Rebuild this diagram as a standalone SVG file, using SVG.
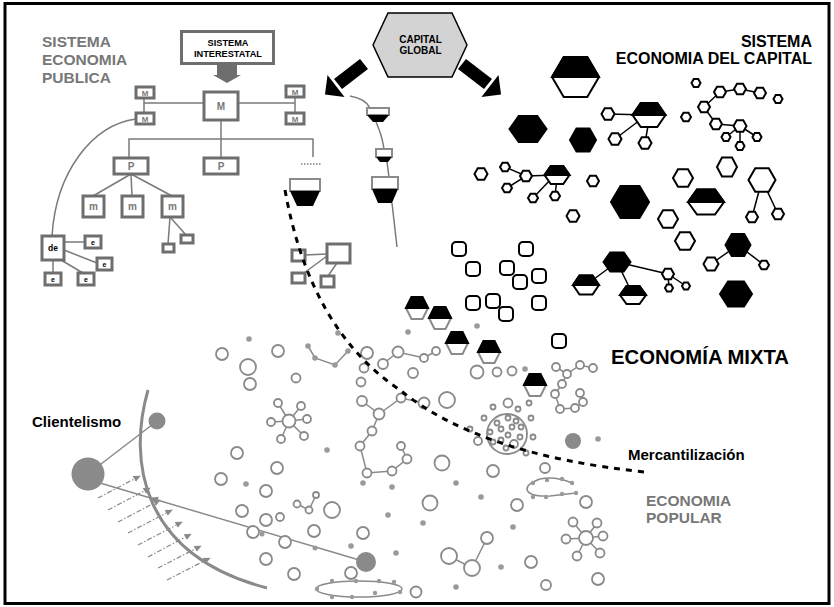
<svg xmlns="http://www.w3.org/2000/svg" width="834" height="607" viewBox="0 0 834 607">
<defs>
<style>
.t{font-family:"Liberation Sans",Arial,Helvetica,sans-serif;font-weight:bold}
.gt{fill:#777}
.gb{fill:#fff;stroke:#6e6e6e;stroke-width:3}
.gl{fill:none;stroke:#7a7a7a;stroke-width:1.5}
.ho{fill:#fff;stroke:#000;stroke-width:2}
.hb{fill:#000;stroke:#000;stroke-width:2}
.hg{fill:#fff;stroke:#8a8a8a;stroke-width:2}
.bl{fill:none;stroke:#000;stroke-width:1.5}
.rs{fill:#fff;stroke:#000;stroke-width:2}
.c{fill:#fff;stroke:#8a8a8a;stroke-width:1.8}
.d{fill:#9a9a9a}
.pl{fill:none;stroke:#8a8a8a;stroke-width:1.5}
.dd{fill:none;stroke:#8a8a8a;stroke-width:1.2;stroke-dasharray:5 2 1.5 2}
</style>
<polygon id="hx" points="-1,0 -0.5,-0.866 0.5,-0.866 1,0 0.5,0.866 -0.5,0.866" vector-effect="non-scaling-stroke"/>
<polygon id="hxt" points="-1,0 -0.5,-0.866 0.5,-0.866 1,0" vector-effect="non-scaling-stroke"/>
<marker id="ah" viewBox="0 0 10 10" refX="9" refY="5" markerWidth="6" markerHeight="6" orient="auto"><path d="M0,0.5 L10,5 L0,9.5 z" fill="#8a8a8a"/></marker>
</defs>
<rect x="5" y="3.5" width="824" height="600" fill="#fff" stroke="#000" stroke-width="3"/>

<g id="connectors">
  <g class="gl">
    <line x1="144" y1="98" x2="144" y2="113"/>
    <line x1="144" y1="103" x2="204" y2="103"/>
    <line x1="238" y1="103" x2="295" y2="103"/>
    <line x1="295" y1="97" x2="295" y2="113"/>
    <line x1="221" y1="120" x2="221" y2="158"/>
    <polyline points="129,158 129,139 313,139 313,157"/>
    <line x1="301" y1="164" x2="321" y2="164" stroke-dasharray="1.5 1.5"/>
    <line x1="131" y1="174" x2="93" y2="196"/>
    <line x1="131" y1="174" x2="132" y2="196"/>
    <line x1="131" y1="174" x2="172" y2="196"/>
    <line x1="170" y1="217" x2="168" y2="244"/>
    <line x1="170" y1="217" x2="186" y2="235"/>
    <path d="M136 119 C92 125 56 172 52 236"/>
    <line x1="64" y1="242" x2="85" y2="242"/>
    <line x1="64" y1="250" x2="97" y2="263"/>
    <line x1="53" y1="260" x2="53" y2="273"/>
    <line x1="61" y1="260" x2="83" y2="273"/>
    <line x1="327" y1="254" x2="305" y2="255"/>
    <line x1="327" y1="256" x2="304" y2="273"/>
    <line x1="337" y1="263" x2="328" y2="276"/>
    <path d="M350 96 Q366 99 370 108 M376 122 Q382 135 384 149 M387 162 L389 177 M392 203 L397 247"/>
  </g>
  <g class="bl">
    <line x1="720" y1="92" x2="740" y2="89"/>
    <line x1="740" y1="89" x2="760" y2="93"/>
    <line x1="720" y1="92" x2="704" y2="107"/>
    <line x1="704" y1="107" x2="716" y2="124"/>
    <line x1="716" y1="124" x2="740" y2="126"/>
    <line x1="740" y1="126" x2="726" y2="137"/>
    <line x1="740" y1="126" x2="757" y2="137"/>
    <line x1="740" y1="126" x2="740" y2="146"/>
    <line x1="608" y1="114" x2="649" y2="115"/>
    <line x1="640" y1="120" x2="615" y2="139"/>
    <line x1="649" y1="120" x2="645" y2="143"/>
    <line x1="505" y1="167" x2="526" y2="176"/>
    <line x1="507" y1="188" x2="526" y2="176"/>
    <line x1="526" y1="176" x2="557" y2="175"/>
    <line x1="552" y1="178" x2="533" y2="198"/>
    <line x1="557" y1="178" x2="555" y2="196"/>
    <line x1="762" y1="180" x2="752" y2="217"/>
    <line x1="762" y1="180" x2="778" y2="214"/>
    <line x1="738" y1="245" x2="711" y2="264"/>
    <line x1="738" y1="245" x2="764" y2="265"/>
    <line x1="617" y1="262" x2="586" y2="285"/>
    <line x1="617" y1="262" x2="633" y2="295"/>
    <line x1="617" y1="262" x2="668" y2="274"/>
    <line x1="668" y1="274" x2="669" y2="288"/>
    <line x1="668" y1="274" x2="686" y2="286"/>
  </g>
  <g class="pl">
    <polyline points="308,346 315,358 335,365 348,351"/>
    <polyline points="383,364 398,352 424,358 436,351"/>
    <polyline points="362,401 379,414 372,431 360,446 367,473 392,471 407,459 401,446"/>
    <polyline points="379,414 401,398 424,403"/>
    <polyline points="556,367 567,374 580,365 593,368"/>
    <polyline points="567,374 562,384 555,394 560,409 575,408 583,402 580,393"/>
    <path d="M289 421 L278 403 M289 421 L301 406 M289 421 L307 419 M289 421 L304 436 M289 421 L281 439 M289 421 L271 422"/>
    <path d="M586 538 L573 522 M586 538 L597 523 M586 538 L603 536 M586 538 L600 553 M586 538 L577 556 M586 538 L566 539"/>
    <polyline points="449,556 472,568 487,538"/>
    <polyline points="297,504 309,510 316,495"/>
    <ellipse cx="359" cy="589" rx="43" ry="8"/>
    <path d="M572 483 Q555 476 540 479 Q526 484 527 490 Q530 497 550 496 L576 493"/>
    <line x1="88" y1="474" x2="157" y2="421"/>
    <line x1="100" y1="483" x2="366" y2="562"/>
    <path d="M148 390 C128 460 140 555 267 588" stroke-width="3"/>
  </g>
  <g class="dd" marker-end="url(#ah)">
    <line x1="98" y1="498" x2="140" y2="476"/>
    <line x1="108" y1="510" x2="150" y2="488"/>
    <line x1="118" y1="522" x2="160" y2="500"/>
    <line x1="128" y1="533" x2="172" y2="510"/>
    <line x1="138" y1="545" x2="182" y2="522"/>
    <line x1="148" y1="557" x2="191" y2="534"/>
    <line x1="158" y1="568" x2="201" y2="546"/>
    <line x1="167" y1="580" x2="210" y2="558"/>
  </g>
  <polygon points="150,497.8 158.7,496.7 156.7,503.4" fill="#8a8a8a"/>
  <g id="arrow-left" fill="#000">
    <polygon points="334,79 342,89 368,69 360,59"/>
    <polygon points="327.5,75 344.5,97 325,94.5"/>
  </g>
  <g id="arrow-right" fill="#000" transform="translate(826 0) scale(-1 1)">
    <polygon points="334,79 342,89 368,69 360,59"/>
    <polygon points="327.5,75 344.5,97 325,94.5"/>
  </g>
</g>

<g id="sistema-economia-publica">
  <text class="t gt" x="42" y="47" font-size="15.5">SISTEMA</text>
  <text class="t gt" x="42" y="65" font-size="15.5">ECONOMIA</text>
  <text class="t gt" x="42" y="83" font-size="15.5">PUBLICA</text>
</g>
<g id="sistema-interestatal">
  <rect class="gb" x="181.5" y="31.5" width="92" height="32"/>
  <text class="t" x="228" y="45.7" font-size="9.2" text-anchor="middle">SISTEMA</text>
  <text class="t" x="228" y="56.7" font-size="9.2" text-anchor="middle">INTERESTATAL</text>
  <polygon points="217,64 237,64 237,75 241,75 227,83 213,75 217,75" fill="#6e6e6e"/>
</g>
<g id="m-main"><rect class="gb" x="204" y="92" width="34" height="28"/><text class="t gt" x="221" y="110" font-size="10" text-anchor="middle" font-weight="normal">M</text></g>
<g id="m1"><rect class="gb" x="136" y="87" width="18" height="11"/><text class="t gt" x="145" y="96" font-size="8" text-anchor="middle">M</text></g>
<g id="m2"><rect class="gb" x="136" y="113" width="18" height="11"/><text class="t gt" x="145" y="122" font-size="8" text-anchor="middle">M</text></g>
<g id="m3"><rect class="gb" x="286" y="86" width="18" height="11"/><text class="t gt" x="295" y="95" font-size="8" text-anchor="middle">M</text></g>
<g id="m4"><rect class="gb" x="286" y="113" width="18" height="11"/><text class="t gt" x="295" y="122" font-size="8" text-anchor="middle">M</text></g>
<g id="p1"><rect class="gb" x="114" y="158" width="34" height="16"/><text class="t gt" x="131" y="170" font-size="10" text-anchor="middle">P</text></g>
<g id="p2"><rect class="gb" x="204" y="158" width="34" height="16"/><text class="t gt" x="221" y="170" font-size="10" text-anchor="middle">P</text></g>
<g id="sm1"><rect class="gb" x="83" y="196" width="21" height="21"/><text class="t gt" x="93.5" y="210" font-size="10" text-anchor="middle">m</text></g>
<g id="sm2"><rect class="gb" x="122" y="196" width="21" height="21"/><text class="t gt" x="132.5" y="210" font-size="10" text-anchor="middle">m</text></g>
<g id="sm3"><rect class="gb" x="162" y="196" width="21" height="21"/><text class="t gt" x="172.5" y="210" font-size="10" text-anchor="middle">m</text></g>
<g id="tiny1"><rect class="gb" x="163" y="244" width="11" height="8"/></g>
<g id="tiny2"><rect class="gb" x="181" y="235" width="12" height="8"/></g>
<g id="de"><rect class="gb" x="42" y="236" width="22" height="24"/><text class="t" x="53" y="251" font-size="8.5" text-anchor="middle">de</text></g>
<g id="e1"><rect class="gb" x="85" y="236" width="16" height="12"/><text class="t" x="93" y="245" font-size="7" text-anchor="middle">e</text></g>
<g id="e2"><rect class="gb" x="97" y="258" width="15" height="12"/><text class="t" x="104.5" y="267" font-size="7" text-anchor="middle">e</text></g>
<g id="e3"><rect class="gb" x="45" y="273" width="16" height="12"/><text class="t" x="53" y="282" font-size="7" text-anchor="middle">e</text></g>
<g id="e4"><rect class="gb" x="78" y="273" width="16" height="12"/><text class="t" x="86" y="282" font-size="7" text-anchor="middle">e</text></g>
<g id="mixed-boxes">
  <rect class="gb" x="327" y="244" width="23" height="19"/>
  <rect class="gb" x="292" y="250" width="13" height="11"/>
  <rect class="gb" x="292" y="273" width="13" height="10"/>
  <rect class="gb" x="321" y="276" width="13" height="11"/>
</g>
<g id="funnels">
  <rect x="290" y="179" width="30" height="12" fill="#fff" stroke="#8a8a8a" stroke-width="2"/>
  <polygon points="290,191 320,191 313,206 297,206" fill="#000"/>
  <rect x="367" y="108" width="22" height="7" fill="#fff" stroke="#8a8a8a" stroke-width="2"/>
  <polygon points="367,115 389,115 383,122 373,122" fill="#000"/>
  <rect x="376" y="149" width="16" height="8" fill="#fff" stroke="#8a8a8a" stroke-width="2"/>
  <polygon points="376,157 392,157 388,162 380,162" fill="#000"/>
  <rect x="372" y="177" width="26" height="12" fill="#fff" stroke="#8a8a8a" stroke-width="2"/>
  <polygon points="372,189 398,189 392,203 378,203" fill="#000"/>
</g>

<g id="capital-global">
  <polygon points="373,45 388,13 452,13 467,45 452,77 388,77" fill="#d3d3d3" stroke="#000" stroke-width="1.5"/>
  <text class="t" x="420.5" y="43.3" font-size="10" text-anchor="middle">CAPITAL</text>
  <text class="t" x="420.5" y="54.3" font-size="10" text-anchor="middle">GLOBAL</text>
</g>

<g id="sistema-economia-capital">
  <text class="t" x="812" y="47" font-size="16" text-anchor="end">SISTEMA</text>
  <text class="t" x="812" y="64" font-size="16" text-anchor="end">ECONOMIA DEL CAPITAL</text>
  <use href="#hx" class="ho" transform="translate(575.5 77) scale(23.5 23.1)"/>
  <use href="#hxt" class="hb" transform="translate(575.5 77) scale(23.5 23.1)"/>
  <use href="#hx" class="ho" transform="translate(649 115) scale(16.5 13.9)"/>
  <use href="#hxt" class="hb" transform="translate(649 115) scale(16.5 13.9)"/>
  <use href="#hx" class="ho" transform="translate(608 114) scale(6.5)"/>
  <use href="#hx" class="ho" transform="translate(615 139) scale(6.5)"/>
  <use href="#hx" class="ho" transform="translate(645 143) scale(6.5)"/>
  <use href="#hx" class="ho" transform="translate(686 117) scale(5)"/>
  <use href="#hx" class="hb" transform="translate(528 129) scale(18.5 15)"/>
  <use href="#hx" class="hb" transform="translate(583 140) scale(13 13.3)"/>
  <use href="#hx" class="ho" transform="translate(696 83) scale(4.5)"/>
  <use href="#hx" class="ho" transform="translate(720 92) scale(6)"/>
  <use href="#hx" class="ho" transform="translate(740 89) scale(6)"/>
  <use href="#hx" class="ho" transform="translate(760 93) scale(6)"/>
  <use href="#hx" class="ho" transform="translate(778 99) scale(4.5)"/>
  <use href="#hx" class="ho" transform="translate(704 107) scale(6)"/>
  <use href="#hx" class="ho" transform="translate(716 124) scale(6)"/>
  <use href="#hx" class="ho" transform="translate(740 126) scale(6.5)"/>
  <use href="#hx" class="ho" transform="translate(726 137) scale(4.5)"/>
  <use href="#hx" class="ho" transform="translate(757 137) scale(4.5)"/>
  <use href="#hx" class="ho" transform="translate(740 146) scale(4.5)"/>
  <use href="#hx" class="ho" transform="translate(481 174) scale(6.5)"/>
  <use href="#hx" class="ho" transform="translate(505 167) scale(5)"/>
  <use href="#hx" class="ho" transform="translate(526 176) scale(6)"/>
  <use href="#hx" class="ho" transform="translate(507 188) scale(5)"/>
  <use href="#hx" class="ho" transform="translate(557 175) scale(12.5 10.4)"/>
  <use href="#hxt" class="hb" transform="translate(557 175) scale(12.5 10.4)"/>
  <use href="#hx" class="ho" transform="translate(533 198) scale(5)"/>
  <use href="#hx" class="ho" transform="translate(555 196) scale(5)"/>
  <use href="#hx" class="ho" transform="translate(593 181) scale(6)"/>
  <use href="#hx" class="hb" transform="translate(630 202) scale(19 18.5)"/>
  <use href="#hx" class="ho" transform="translate(683 178) scale(10)"/>
  <use href="#hx" class="ho" transform="translate(727 167) scale(10 11)"/>
  <use href="#hx" class="ho" transform="translate(762 180) scale(13.5)"/>
  <use href="#hx" class="ho" transform="translate(752 217) scale(6)"/>
  <use href="#hx" class="ho" transform="translate(778 214) scale(6)"/>
  <use href="#hx" class="ho" transform="translate(706 202) scale(18 14.4)"/>
  <use href="#hxt" class="hb" transform="translate(706 202) scale(18 14.4)"/>
  <use href="#hx" class="ho" transform="translate(573 216) scale(6.5)"/>
  <use href="#hx" class="ho" transform="translate(668 219) scale(10)"/>
  <use href="#hx" class="ho" transform="translate(685 241) scale(10)"/>
  <use href="#hx" class="hb" transform="translate(738 245) scale(12.5 12.7)"/>
  <use href="#hx" class="ho" transform="translate(711 264) scale(7.5)"/>
  <use href="#hx" class="ho" transform="translate(764 265) scale(5)"/>
  <use href="#hx" class="hb" transform="translate(617 262) scale(13.5 11)"/>
  <use href="#hx" class="ho" transform="translate(586 285) scale(13 11)"/>
  <use href="#hxt" class="hb" transform="translate(586 285) scale(13 11)"/>
  <use href="#hx" class="ho" transform="translate(633 295) scale(13 10.4)"/>
  <use href="#hxt" class="hb" transform="translate(633 295) scale(13 10.4)"/>
  <use href="#hx" class="ho" transform="translate(668 274) scale(6)"/>
  <use href="#hx" class="ho" transform="translate(669 288) scale(4)"/>
  <use href="#hx" class="ho" transform="translate(686 286) scale(4)"/>
  <use href="#hx" class="hb" transform="translate(736 294) scale(16 14.4)"/>
</g>

<g id="economia-mixta">
  <rect class="rs" x="452" y="242" width="14" height="14" rx="4"/>
  <rect class="rs" x="519" y="242" width="14" height="14" rx="4"/>
  <rect class="rs" x="466" y="262" width="14" height="14" rx="4"/>
  <rect class="rs" x="500" y="261" width="14" height="14" rx="4"/>
  <rect class="rs" x="513" y="275" width="14" height="14" rx="4"/>
  <rect class="rs" x="532" y="269" width="14" height="14" rx="4"/>
  <rect class="rs" x="466" y="296" width="14" height="14" rx="4"/>
  <rect class="rs" x="486" y="294" width="14" height="14" rx="4"/>
  <rect class="rs" x="499" y="307" width="14" height="14" rx="4"/>
  <rect class="rs" x="532" y="296" width="14" height="14" rx="4"/>
  <rect class="rs" x="552" y="334" width="14" height="14" rx="4"/>
  <use href="#hx" class="hg" transform="translate(417 308) scale(11 12.7)"/>
  <use href="#hxt" class="hb" transform="translate(417 308) scale(11 12.7)"/>
  <use href="#hx" class="hg" transform="translate(440 318) scale(11 12.7)"/>
  <use href="#hxt" class="hb" transform="translate(440 318) scale(11 12.7)"/>
  <use href="#hx" class="hg" transform="translate(457 343) scale(11 12.7)"/>
  <use href="#hxt" class="hb" transform="translate(457 343) scale(11 12.7)"/>
  <use href="#hx" class="hg" transform="translate(489 352) scale(11 12.7)"/>
  <use href="#hxt" class="hb" transform="translate(489 352) scale(11 12.7)"/>
  <use href="#hx" class="hg" transform="translate(535 385) scale(11 12.7)"/>
  <use href="#hxt" class="hb" transform="translate(535 385) scale(11 12.7)"/>
  <text class="t" x="611" y="364" font-size="20.3">ECONOMÍA MIXTA</text>
</g>

<g id="economia-popular">
  <g class="c">
    <circle cx="222" cy="354" r="6"/><circle cx="248" cy="367" r="8"/><circle cx="250" cy="384" r="6"/>
    <circle cx="278" cy="351" r="6"/><circle cx="296" cy="378" r="4.5"/>
    <circle cx="237" cy="453" r="6"/><circle cx="277" cy="468" r="6"/><circle cx="221" cy="479" r="6"/>
    <circle cx="266" cy="491" r="6"/><circle cx="242" cy="511" r="6"/><circle cx="266" cy="520" r="6"/>
    <circle cx="280" cy="517" r="4"/><circle cx="253" cy="532" r="6"/><circle cx="266" cy="559" r="6"/>
    <circle cx="367" cy="353" r="6"/><circle cx="364" cy="368" r="4.5"/><circle cx="361" cy="382" r="4.5"/>
    <circle cx="383" cy="364" r="5"/><circle cx="398" cy="352" r="5.5"/><circle cx="413" cy="373" r="5"/>
    <circle cx="424" cy="358" r="4"/><circle cx="436" cy="351" r="4"/><circle cx="447" cy="400" r="8"/>
    <circle cx="477" cy="372" r="6.5"/><circle cx="497" cy="372" r="4.5"/><circle cx="512" cy="371" r="4.5"/>
    <circle cx="556" cy="367" r="4"/><circle cx="567" cy="374" r="4"/><circle cx="580" cy="365" r="4"/>
    <circle cx="593" cy="368" r="4"/><circle cx="562" cy="384" r="4"/><circle cx="555" cy="394" r="4"/>
    <circle cx="560" cy="409" r="4"/><circle cx="575" cy="408" r="4"/><circle cx="583" cy="402" r="4"/>
    <circle cx="580" cy="393" r="4"/>
    <circle cx="362" cy="401" r="5"/><circle cx="379" cy="414" r="5.5"/><circle cx="372" cy="431" r="4.5"/>
    <circle cx="360" cy="446" r="4.5"/><circle cx="367" cy="473" r="4.5"/><circle cx="392" cy="471" r="4.5"/>
    <circle cx="407" cy="459" r="4.5"/><circle cx="401" cy="446" r="4"/><circle cx="401" cy="398" r="4.5"/>
    <circle cx="424" cy="403" r="5.5"/>
    <circle cx="289" cy="421" r="6.5"/><circle cx="278" cy="403" r="4"/><circle cx="301" cy="406" r="4"/>
    <circle cx="307" cy="419" r="4"/><circle cx="304" cy="436" r="4"/><circle cx="281" cy="439" r="4"/>
    <circle cx="271" cy="422" r="4"/>
    <circle cx="586" cy="538" r="7"/><circle cx="573" cy="522" r="4.5"/><circle cx="597" cy="523" r="4.5"/>
    <circle cx="603" cy="536" r="4.5"/><circle cx="600" cy="553" r="4.5"/><circle cx="577" cy="556" r="4.5"/>
    <circle cx="566" cy="539" r="4.5"/>
    <circle cx="442" cy="463" r="7.5"/><circle cx="493" cy="471" r="6"/><circle cx="545" cy="468" r="5"/>
    <circle cx="430" cy="503" r="7.5"/><circle cx="332" cy="510" r="8"/><circle cx="517" cy="505" r="6"/>
    <circle cx="314" cy="531" r="6"/><circle cx="363" cy="533" r="6"/><circle cx="285" cy="542" r="6"/>
    <circle cx="294" cy="574" r="6"/><circle cx="351" cy="573" r="6"/><circle cx="416" cy="592" r="5.5"/>
    <circle cx="531" cy="562" r="6"/><circle cx="546" cy="585" r="5"/><circle cx="586" cy="502" r="6"/>
    <circle cx="598" cy="579" r="6"/>
    <circle cx="449" cy="556" r="8"/><circle cx="472" cy="568" r="8"/><circle cx="487" cy="538" r="6"/>
    <circle cx="297" cy="504" r="3.5"/><circle cx="309" cy="510" r="3.5"/><circle cx="316" cy="495" r="3"/>
    <circle cx="507" cy="434" r="20"/>
    <circle cx="497" cy="423" r="2.5"/><circle cx="508" cy="418" r="2.5"/><circle cx="516" cy="421" r="2.5"/>
    <circle cx="521" cy="427" r="2.5"/><circle cx="512" cy="427" r="2.5"/><circle cx="501" cy="429" r="2.5"/>
    <circle cx="490" cy="432" r="2.5"/><circle cx="508" cy="435" r="2.5"/><circle cx="520" cy="437" r="2.5"/>
    <circle cx="493" cy="442" r="2.5"/><circle cx="501" cy="440" r="2.5"/><circle cx="514" cy="444" r="4"/>
    <circle cx="506" cy="448" r="2.5"/>
    <circle cx="493" cy="407" r="2.5"/><circle cx="508" cy="403" r="4.5"/><circle cx="518" cy="409" r="2.5"/>
    <circle cx="529" cy="403" r="2.5"/><circle cx="484" cy="418" r="2.5"/><circle cx="531" cy="418" r="2.5"/>
    <circle cx="470" cy="429" r="2.5"/><circle cx="478" cy="441" r="4"/><circle cx="533" cy="437" r="2.5"/>
    <circle cx="526" cy="453" r="2.5"/>
  </g>
  <g class="d">
    <circle cx="249" cy="339" r="2.8"/><circle cx="338" cy="333" r="2.8"/><circle cx="408" cy="332" r="2.8"/>
    <circle cx="477" cy="326" r="2.8"/><circle cx="525" cy="369" r="2.8"/><circle cx="327" cy="450" r="2.8"/>
    <circle cx="363" cy="483" r="2.8"/><circle cx="392" cy="487" r="2.8"/><circle cx="456" cy="483" r="2.8"/>
    <circle cx="481" cy="497" r="2.8"/><circle cx="388" cy="515" r="2.8"/><circle cx="423" cy="523" r="2.8"/>
    <circle cx="351" cy="546" r="2.8"/><circle cx="396" cy="553" r="2.8"/><circle cx="513" cy="527" r="2.8"/>
    <circle cx="501" cy="567" r="2.8"/><circle cx="456" cy="587" r="2.8"/><circle cx="315" cy="548" r="2.5"/>
    <circle cx="262" cy="534" r="2.5"/><circle cx="246" cy="484" r="2.8"/><circle cx="598" cy="439" r="2.8"/>
    <circle cx="308" cy="346" r="2.8"/><circle cx="315" cy="358" r="2.8"/><circle cx="335" cy="365" r="2.8"/>
    <circle cx="348" cy="351" r="2.8"/>
    <circle cx="317" cy="589" r="2.2"/><circle cx="332" cy="581" r="2.2"/><circle cx="356" cy="581" r="2.2"/>
    <circle cx="379" cy="581" r="2.2"/><circle cx="394" cy="582" r="2.2"/><circle cx="400" cy="592" r="2.2"/>
    <circle cx="375" cy="593" r="2.2"/><circle cx="352" cy="597" r="2.2"/><circle cx="332" cy="597" r="2.2"/>
    <circle cx="533" cy="483" r="2.2"/><circle cx="547" cy="480" r="2.2"/><circle cx="562" cy="479" r="2.2"/>
    <circle cx="572" cy="483" r="2.2"/><circle cx="533" cy="497" r="2.2"/><circle cx="546" cy="497" r="2.2"/>
    <circle cx="562" cy="494" r="2.2"/><circle cx="576" cy="493" r="2.2"/>
  </g>
  <g fill="#8a8a8a">
    <circle cx="573" cy="441" r="8"/>
    <circle cx="366" cy="562" r="10"/>
  </g>
  <text class="t gt" x="646" y="506" font-size="15.5">ECONOMIA</text>
  <text class="t gt" x="646" y="523" font-size="15.5">POPULAR</text>
</g>

<g id="clientelismo">
  <circle cx="88" cy="474" r="16.5" fill="#8a8a8a"/>
  <circle cx="157" cy="421" r="8.5" fill="#8a8a8a"/>
  <text class="t" x="32" y="427" font-size="15">Clientelismo</text>
</g>

<g id="mercantilizacion">
  <path d="M285 190 Q310 330 400 390 Q480 455 645 472" fill="none" stroke="#000" stroke-width="3" stroke-dasharray="6 6"/>
  <text class="t" x="628" y="460" font-size="15">Mercantilización</text>
</g>
</svg>
